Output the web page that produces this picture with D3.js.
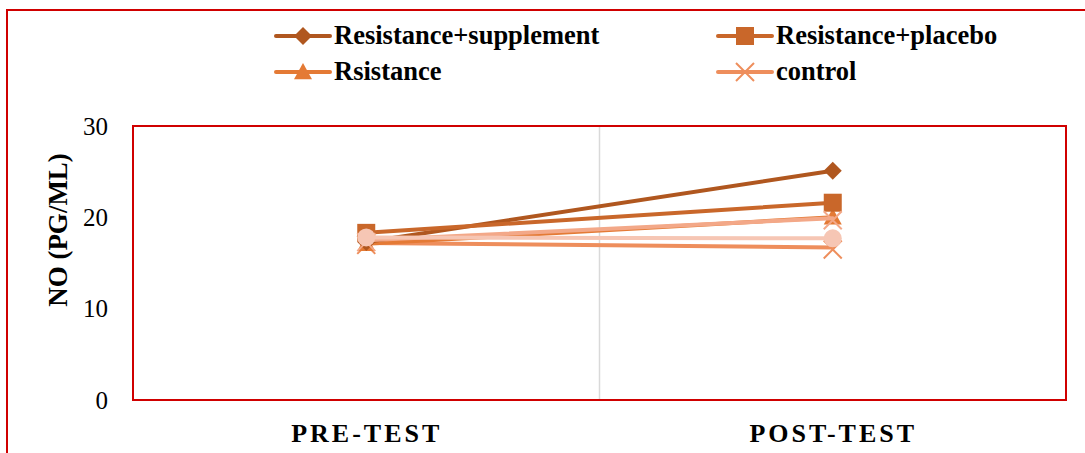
<!DOCTYPE html>
<html>
<head>
<meta charset="utf-8">
<script src="https://cdn.jsdelivr.net/npm/d3@7"></script>
<style>
  body { margin: 0; background: #fff; }
  svg { display: block; }
  text { font-family: "Liberation Serif", "Times New Roman", serif; }
</style>
</head>
<body>
<svg id="chart" width="1085" height="453"></svg>
<script>
// data
const categories = ['PRE-TEST', 'POST-TEST'];
const seriesNames = ['Resistance+supplement', 'Resistance+placebo', 'Rsistance', 'control', 'extra1', 'extra2'];
const supplement = [17.3, 25.1];
const placebo = [18.3, 21.6];
const rsistance = [17.1, 20.0];
const control = [17.2, 16.7];
const extra1 = [17.5, 19.9];
const extra2 = [17.8, 17.7];
const yTicks = [0, 10, 20, 30];

// drawing order: later entries sit on top
const series = [
  { name: seriesNames[3], values: control, color: '#EE8E5C', marker: 'x', legend: true },
  { name: seriesNames[2], values: rsistance, color: '#E47A35', marker: 'triangle', legend: true },
  { name: seriesNames[0], values: supplement, color: '#B0571F', marker: 'diamond', legend: true },
  { name: seriesNames[1], values: placebo, color: '#C9672A', marker: 'square', legend: true },
  { name: seriesNames[4], values: extra1, color: '#F3A888', marker: 'x', legend: false },
  { name: seriesNames[5], values: extra2, color: '#F6C6B4', marker: 'circle', legend: false }
];

const svg = d3.select('#chart');
const margin = { left: 133, top: 126, right: 1066, bottom: 400 };

// outer border (left and top only visible)
svg.append('path')
  .attr('d', 'M7,453 V10 H1085')
  .attr('fill', 'none')
  .attr('stroke', '#D00000')
  .attr('stroke-width', 2);

const x = d3.scalePoint().domain(categories).range([margin.left, margin.right]).padding(0.5);
const y = d3.scaleLinear().domain([0, 30]).range([margin.bottom, margin.top]);

// category divider
svg.append('line')
  .attr('x1', (margin.left + margin.right) / 2).attr('x2', (margin.left + margin.right) / 2)
  .attr('y1', margin.top).attr('y2', margin.bottom)
  .attr('stroke', '#D9D9D9').attr('stroke-width', 1.5);

// plot frame
svg.append('rect')
  .attr('x', margin.left).attr('y', margin.top)
  .attr('width', margin.right - margin.left).attr('height', margin.bottom - margin.top)
  .attr('fill', 'none').attr('stroke', '#D00000').attr('stroke-width', 2);

// y axis
const yAxis = svg.append('g')
  .attr('transform', `translate(${margin.left},0)`)
  .call(d3.axisLeft(y).tickValues(yTicks).tickSize(0).tickPadding(25));
yAxis.select('.domain').remove();
yAxis.selectAll('text')
  .attr('font-size', 25).attr('fill', '#000')
  .style('font-family', '"Liberation Serif", serif');

svg.append('text')
  .attr('transform', 'translate(67,230) rotate(-90)')
  .attr('text-anchor', 'middle')
  .attr('font-size', 27).attr('font-weight', 'bold')
  .text('NO (PG/ML)');

// x axis labels
const xAxis = svg.append('g')
  .attr('transform', `translate(0,${margin.bottom})`)
  .call(d3.axisBottom(x).tickSize(0).tickPadding(24));
xAxis.select('.domain').remove();
xAxis.selectAll('text')
  .attr('font-size', 26).attr('font-weight', 'bold').attr('fill', '#000')
  .attr('letter-spacing', 3)
  .style('font-family', '"Liberation Serif", serif');

// markers
function drawMarker(g, type, color, cx, cy, s) {
  if (type === 'diamond') {
    g.append('path')
      .attr('d', `M${cx},${cy - s} L${cx + s},${cy} L${cx},${cy + s} L${cx - s},${cy} Z`)
      .attr('fill', color);
  } else if (type === 'square') {
    g.append('rect').attr('x', cx - s).attr('y', cy - s)
      .attr('width', 2 * s).attr('height', 2 * s).attr('fill', color);
  } else if (type === 'triangle') {
    g.append('path')
      .attr('d', `M${cx},${cy - s} L${cx + s},${cy + s * 0.8} L${cx - s},${cy + s * 0.8} Z`)
      .attr('fill', color);
  } else if (type === 'circle') {
    g.append('circle').attr('cx', cx).attr('cy', cy).attr('r', s).attr('fill', color);
  } else if (type === 'x') {
    g.append('path')
      .attr('d', `M${cx - s},${cy - s} L${cx + s},${cy + s} M${cx - s},${cy + s} L${cx + s},${cy - s}`)
      .attr('stroke', color).attr('stroke-width', 2).attr('fill', 'none');
  }
}

const line = d3.line().x((d, i) => x(categories[i])).y(d => y(d));

series.forEach(s => {
  const g = svg.append('g');
  g.append('path')
    .attr('d', line(s.values))
    .attr('fill', 'none')
    .attr('stroke', s.color)
    .attr('stroke-width', 4)
    .attr('stroke-linecap', 'round');
  s.values.forEach((v, i) => {
    drawMarker(g, s.marker, s.color, x(categories[i]), y(v) + (s.marker === 'x' ? 2 : 0), 9);
  });
});

// legend
const legendItems = series.filter(s => s.legend);
const legendOrder = ['Resistance+supplement', 'Resistance+placebo', 'Rsistance', 'control'];
legendOrder.forEach((name, i) => {
  const s = legendItems.find(d => d.name === name);
  const lx = i % 2 === 0 ? 276 : 718;
  const ly = i < 2 ? 36 : 72;
  const g = svg.append('g');
  g.append('line')
    .attr('x1', lx).attr('x2', lx + 54).attr('y1', ly).attr('y2', ly)
    .attr('stroke', s.color).attr('stroke-width', 4).attr('stroke-linecap', 'round');
  drawMarker(g, s.marker, s.color, lx + 27, ly, 9);
  g.append('text')
    .attr('x', lx + 58).attr('y', ly + 8)
    .attr('font-size', 26.5).attr('font-weight', 'bold')
    .text(name);
});
</script>
</body>
</html>
